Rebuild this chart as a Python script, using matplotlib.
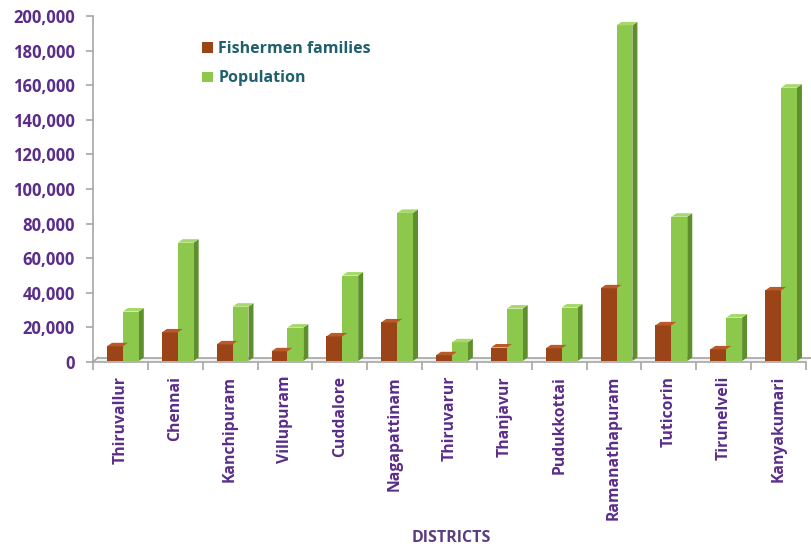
import matplotlib
matplotlib.use("Agg")
import matplotlib.pyplot as plt
from matplotlib.patches import Polygon, Patch
from matplotlib.ticker import FuncFormatter, MultipleLocator
import numpy as np

districts = ["Thiruvallur", "Chennai", "Kanchipuram", "Villupuram", "Cuddalore",
             "Nagapattinam", "Thiruvarur", "Thanjavur", "Pudukkottai",
             "Ramanathapuram", "Tuticorin", "Tirunelveli", "Kanyakumari"]
fishermen_families = [8500, 16500, 9600, 5600, 14200, 22300, 3300, 7800, 7300,
                      42000, 20600, 6700, 40800]
population = [28600, 68400, 31400, 19300, 49400, 85600, 10800, 30300, 30900,
              194000, 83400, 25100, 158000]

purple = "#5b2d8a"
teal = "#1f5f6e"
brown, brown_side, brown_top = "#9b4418", "#6e2e0e", "#b85a2a"
green, green_side, green_top = "#8cc84b", "#5e8f2c", "#a6d86a"

plt.rcParams['font.family'] = ['Open Sans', 'DejaVu Sans']

fig = plt.figure(figsize=(8.11, 5.51), dpi=100)
ax = fig.add_axes([93/811, 1-362/551, (806-93)/811, (362-16)/551])

n = len(districts)
x = np.arange(n)
w = 0.29
ax.set_xlim(-0.5, n - 0.5)
ax.set_ylim(0, 200000)

px_x = (n) / ax.bbox.width
px_y = 200000 / ax.bbox.height
ddx, ddy = 5 * px_x, 3.5 * px_y
base = 1.0 * px_y

ax.add_patch(Polygon([(-0.5, 0), (n - 0.5, 0), (n - 0.5 + ddx, ddy + base), (-0.5 + ddx, ddy + base)],
                     closed=True, facecolor="#f2f2f2", edgecolor="none", zorder=1, clip_on=False))
ax.plot([-0.5 + ddx, n - 0.5 + ddx], [ddy + base, ddy + base], color="#a6a6a6", lw=1.2, zorder=1.5, clip_on=False)
ax.plot([-0.5, -0.5 + ddx], [0, ddy + base], color="#a6a6a6", lw=1.2, zorder=1.5, clip_on=False)

def bar3d(xc, v, front, side, top):
    left, right = xc - w / 2, xc + w / 2
    ax.bar(xc, v, width=w, bottom=base, color=front, edgecolor="none", zorder=3)
    ax.add_patch(Polygon([(right, base), (right, base + v), (right + ddx, base + v + ddy), (right + ddx, base + ddy)],
                         closed=True, facecolor=side, edgecolor="none", zorder=2.9))
    ax.add_patch(Polygon([(left, base + v), (right, base + v), (right + ddx, base + v + ddy), (left + ddx, base + v + ddy)],
                         closed=True, facecolor=top, edgecolor="none", zorder=3.1))

for i in range(n):
    bar3d(x[i] - 0.1, fishermen_families[i], brown, brown_side, brown_top)
    bar3d(x[i] + 0.19, population[i], green, green_side, green_top)

for s in ["top", "right"]:
    ax.spines[s].set_visible(False)
ax.spines["left"].set_color("#a6a6a6")
ax.spines["bottom"].set_color("#a6a6a6")
ax.spines["left"].set_linewidth(1.2)
ax.spines["bottom"].set_linewidth(1.2)

ax.yaxis.set_major_locator(MultipleLocator(20000))
ax.yaxis.set_major_formatter(FuncFormatter(lambda v, p: f"{int(v):,}"))
ax.tick_params(axis="y", colors="#a6a6a6", length=5, width=1.2, labelcolor=purple, labelsize=12, pad=8)
for lab in ax.get_yticklabels():
    lab.set_fontweight("bold")

ax.set_xticks(np.arange(-0.5, n, 1.0), minor=False)
ax.set_xticklabels([""] * len(np.arange(-0.5, n, 1.0)))
ax.set_xticks(x, minor=True)
ax.set_xticklabels(districts, minor=True, rotation=90, fontsize=11.3, fontweight="bold", color=purple)
ax.tick_params(axis="x", which="major", colors="#a6a6a6", length=6, width=1.2)
ax.tick_params(axis="x", which="minor", length=0, pad=10)

fig.text(451/811, 1 - 538/551, "DISTRICTS", ha="center", va="center",
         fontsize=11.5, fontweight="bold", color="#5c3d82")

handles = [Patch(facecolor=brown, edgecolor="none"), Patch(facecolor=green, edgecolor="none")]
leg = fig.legend(handles, ["Fishermen families", "Population"], loc="upper left",
                 bbox_to_anchor=(188/811, 1 - 27/551), frameon=False,
                 handlelength=0.65, handleheight=0.65, handletextpad=0.35, labelspacing=0.82,
                 prop={"size": 11.5, "weight": "bold"})
for t in leg.get_texts():
    t.set_color(teal)

fig.savefig("out.png", dpi=100, facecolor="white")
